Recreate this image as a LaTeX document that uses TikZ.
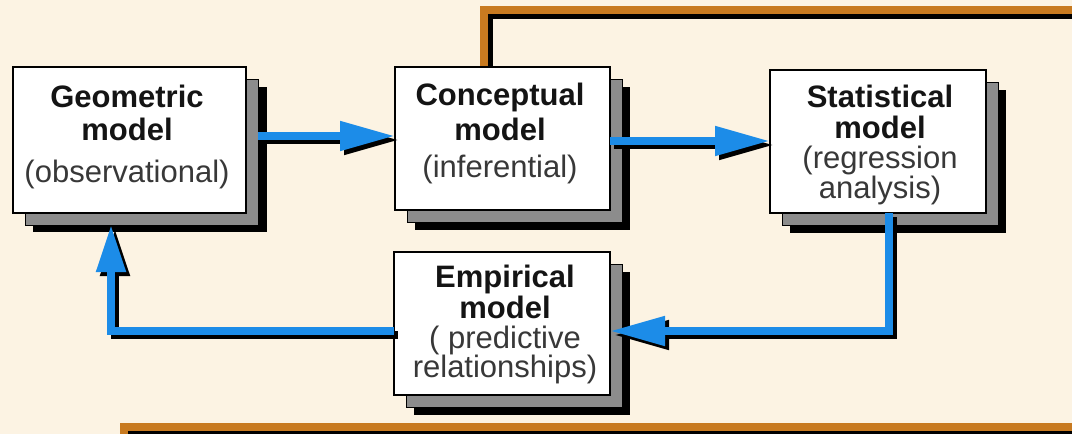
\documentclass[tikz,border=0pt]{standalone}
\usepackage{fontspec}
\setmainfont{Liberation Sans}
\usetikzlibrary{arrows.meta}
\definecolor{bg}{RGB}{252,243,227}
\definecolor{brownl}{RGB}{200,122,32}
\definecolor{bluel}{RGB}{28,140,232}
\definecolor{shgray}{RGB}{140,140,140}
\begin{document}
\begin{tikzpicture}[x=1pt,y=-1pt,
  box/.style={draw=black, line width=2, fill=white, inner sep=0, outer sep=0},
  grayshadow/.style={draw=black, line width=1, fill=shgray},
  ttl/.style={anchor=base, inner sep=0, text=black!92, font=\fontsize{31}{31}\selectfont\bfseries},
  sub/.style={anchor=base, inner sep=0, text=black!78, font=\fontsize{31}{31}\selectfont},
  flow/.style={draw=bluel, line width=8, -{Triangle[length=55pt,width=28pt]}},
  flowsh/.style={draw=black, line width=8, -{Triangle[length=55pt,width=28pt]}, transform canvas={xshift=4pt,yshift=-4pt}},
  brn/.style={draw=brownl, line width=8},
  brnsh/.style={draw=black, line width=6, transform canvas={xshift=6pt,yshift=-6pt}}]
\useasboundingbox (0,0) rectangle (1072,434);
\fill[bg] (0,0) rectangle (1072,434);
\clip (0,0) rectangle (1072,434);

% brown frame lines
\coordinate (t0) at (484,67);
\coordinate (t1) at (484,10);
\coordinate (t2) at (1085,10);
\coordinate (b0) at (124,445);
\coordinate (b1) at (124,427);
\coordinate (b2) at (1085,427);
\draw[brnsh] (t0) -- (t1) -- (t2);
\draw[brn] (t0) -- (t1) -- (t2);
\draw[brnsh] (b0) -- (b1) -- (b2);
\draw[brn] (b0) -- (b1) -- (b2);

% box shadows
\fill[black] (33,87) rectangle (267,232);
\path[grayshadow] (25,79) rectangle (258,225);
\fill[black] (415,87) rectangle (630,230);
\path[grayshadow] (407,79) rectangle (622,222);
\fill[black] (790,90) rectangle (1006,233);
\path[grayshadow] (782,82) rectangle (998,225);
\fill[black] (414,272) rectangle (630,415);
\path[grayshadow] (406,264) rectangle (622,407);

% boxes
\node[box, minimum width=233, minimum height=146] (geo) at (129.5,140) {};
\node[box, minimum width=215, minimum height=143] (con) at (502.5,138.5) {};
\node[box, minimum width=216, minimum height=143] (stat) at (878,141.5) {};
\node[box, minimum width=216, minimum height=143] (emp) at (502,323.5) {};

% texts
\node[ttl] (geo1) at (127,107) {Geometric};
\node[ttl] (geo2) at (127,140) {model};
\node[sub] (geo3) at (127,182) {(observational)};
\node[ttl] (con1) at (500,105) {Conceptual};
\node[ttl] (con2) at (500,140) {model};
\node[sub] (con3) at (500,177) {(inferential)};
\node[ttl] (stat1) at (880,107) {Statistical};
\node[ttl] (stat2) at (880,138) {model};
\node[sub] (stat3) at (880,168) {(regression};
\node[sub] (stat4) at (880,198) {analysis)};
\node[ttl] (emp1) at (505,287) {Empirical};
\node[ttl] (emp2) at (505,318) {model};
\node[sub] (emp3) at (505,348) {( predictive};
\node[sub] (emp4) at (505,377) {relationships)};

% blue connectors
\coordinate (a1) at (258,136);
\coordinate (a2) at (700,141);
\coordinate (c1) at (889,331);
\coordinate (c2) at (111,331);
\coordinate (c3) at (111,225);
\foreach \s in {flowsh,flow}{
  \draw[\s] (a1) -- (a1 -| con.west);
  \draw[\s] (con.east |- a2) -- (a2 -| stat.west);
  \draw[\s] (stat.south -| c1) -- (c1) -- (c1 -| emp.east);
  \draw[\s, -{Triangle[length=47pt,width=28pt]}] (c2 -| emp.west) -- (c2) -- (c3);
}
\end{tikzpicture}
\end{document}
